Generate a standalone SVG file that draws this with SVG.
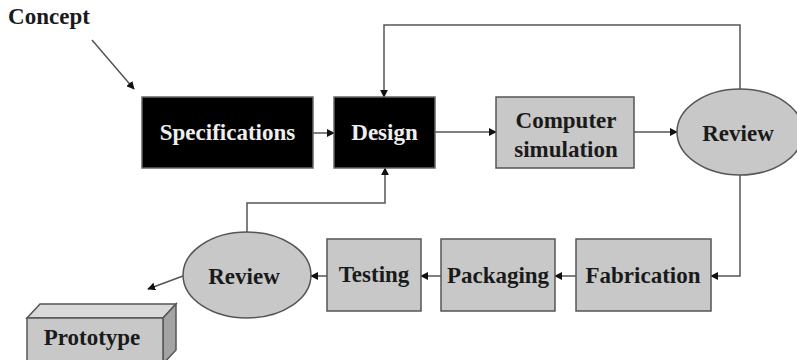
<svg xmlns="http://www.w3.org/2000/svg" width="797" height="360" viewBox="0 0 797 360">
  <style>
    text { font-family: "Liberation Serif", "Times New Roman", serif; font-weight: bold; font-size: 23px; text-anchor: middle; fill: #1a1a1a; }
    .dark rect { fill: #000; stroke: #666; stroke-width: 1.5; }
    .dark text { fill: #eee; }
    .box rect, .box ellipse { fill: #c8c8c8; stroke: #555; stroke-width: 1.5; }
    .link { fill: none; stroke: #555; stroke-width: 1.5; marker-end: url(#arrow); }
  </style>
  <defs>
    <marker id="arrow" viewBox="0 0 10 10" refX="9" refY="5" markerWidth="8" markerHeight="8" markerUnits="userSpaceOnUse" orient="auto">
      <path d="M0,0 L10,5 L0,10 Z" fill="#111"/>
    </marker>
  </defs>
  <rect width="797" height="360" fill="#fff"/>

  <g id="connectors">
    <path class="link" d="M92,40 L134,89"/>
    <path class="link" d="M313,133 H334"/>
    <path class="link" d="M435,132 H496"/>
    <path class="link" d="M634,132 H677"/>
    <path class="link" d="M740,89 V25 H384 V97"/>
    <path class="link" d="M740,175 V276 H711"/>
    <path class="link" d="M576,276 H555"/>
    <path class="link" d="M441,276 H421"/>
    <path class="link" d="M327,276 H311"/>
    <path class="link" d="M247,232 V203 H385 V168"/>
    <path class="link" d="M183,276 L148,289"/>
  </g>

  <g id="concept">
    <text x="49" y="24">Concept</text>
  </g>

  <g id="specifications" class="dark">
    <rect x="142" y="97" width="171" height="71"/>
    <text x="227.5" y="140">Specifications</text>
  </g>

  <g id="design" class="dark">
    <rect x="334" y="97" width="101" height="71"/>
    <text x="384.5" y="140">Design</text>
  </g>

  <g id="computer-simulation" class="box">
    <rect x="496" y="97" width="138" height="71"/>
    <text x="566" y="128">Computer</text>
    <text x="566" y="157">simulation</text>
  </g>

  <g id="review-1" class="box">
    <ellipse cx="740" cy="132" rx="63" ry="43"/>
    <text x="738" y="141">Review</text>
  </g>

  <g id="fabrication" class="box">
    <rect x="576" y="239" width="135" height="72"/>
    <text x="643" y="283">Fabrication</text>
  </g>

  <g id="packaging" class="box">
    <rect x="441" y="239" width="114" height="72"/>
    <text x="498" y="283">Packaging</text>
  </g>

  <g id="testing" class="box">
    <rect x="327" y="239" width="94" height="72"/>
    <text x="374" y="282">Testing</text>
  </g>

  <g id="review-2" class="box">
    <ellipse cx="247" cy="275" rx="64" ry="43"/>
    <text x="244" y="284">Review</text>
  </g>

  <g id="prototype">
    <polygon points="27,318 40,304 176,304 163,318" fill="#d9d9d9" stroke="#555" stroke-width="1.5"/>
    <polygon points="163,318 176,304 176,350 163,364" fill="#a3a3a3" stroke="#555" stroke-width="1.5"/>
    <rect x="27" y="318" width="136" height="46" fill="#c8c8c8" stroke="#555" stroke-width="1.5"/>
    <text x="92" y="345">Prototype</text>
  </g>
</svg>
